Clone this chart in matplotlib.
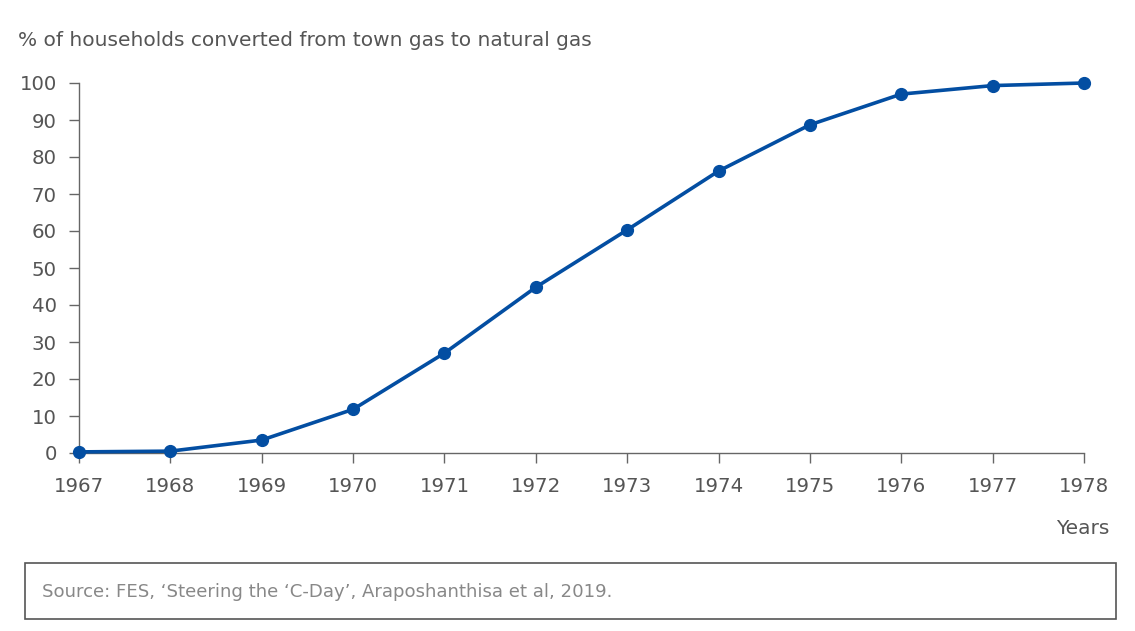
import matplotlib
matplotlib.use("Agg")
import matplotlib.pyplot as plt
from matplotlib.patches import Rectangle

# data
years = [1967, 1968, 1969, 1970, 1971, 1972, 1973, 1974, 1975, 1976, 1977, 1978]
pct_converted = [0.3, 0.5, 3.5, 11.8, 27.0, 44.8, 60.3, 76.2, 88.7, 97.0, 99.3, 100.0]
y_ticks = [0, 10, 20, 30, 40, 50, 60, 70, 80, 90, 100]

title = "% of households converted from town gas to natural gas"
x_label = "Years"
source = "Source: FES, \u2018Steering the \u2018C-Day\u2019, Araposhanthisa et al, 2019."

line_color = "#034ea2"
text_color = "#555555"
axis_color = "#666666"

plt.rcParams['font.family'] = ['DejaVu Sans']

fig = plt.figure(figsize=(11.35, 6.31), dpi=100)
ax = fig.add_axes([79 / 1135, 178 / 631, (1084 - 79) / 1135, (453 - 83) / 631])

ax.plot(years, pct_converted, color=line_color, linewidth=2.6, marker='o',
        markersize=8.5, clip_on=False, zorder=3)

ax.set_xlim(1967, 1978)
ax.set_ylim(0, 100)
ax.set_xticks(years)
ax.set_yticks(y_ticks)

for side in ['top', 'right']:
    ax.spines[side].set_visible(False)
for side in ['left', 'bottom']:
    ax.spines[side].set_color(axis_color)
    ax.spines[side].set_linewidth(1.0)

ax.tick_params(axis='both', colors=axis_color, labelcolor=text_color,
               labelsize=14.2, length=7, width=1.0, direction='out')
ax.tick_params(axis='x', pad=10)
ax.tick_params(axis='y', pad=9)

fig.text(18 / 1135, 1 - 41 / 631, title, fontsize=14.5, color=text_color,
         ha='left', va='center')
fig.text(1109 / 1135, 1 - 529 / 631, x_label, fontsize=14.5, color=text_color,
         ha='right', va='center')

# source box
fig.patches.append(Rectangle((25 / 1135, 1 - 619 / 631), (1116 - 25) / 1135, 56 / 631,
                             transform=fig.transFigure, fill=False,
                             edgecolor='#555555', linewidth=1.2))
fig.text(42 / 1135, 1 - 592 / 631, source, fontsize=13.1, color='#888888',
         ha='left', va='center')

fig.savefig("out.png", dpi=100)
